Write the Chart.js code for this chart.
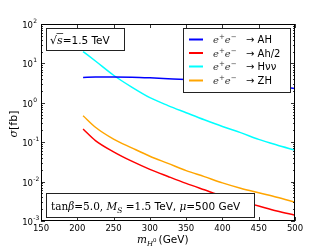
<!DOCTYPE html>
<html>
<head>
<meta charset="utf-8">
<script src="https://cdn.jsdelivr.net/npm/chart.js@4"></script>
<style>
  html,body{margin:0;padding:0;background:#fff;}
  #wrap{width:328px;height:246px;}
</style>
</head>
<body>
<div id="wrap"><canvas id="chart" width="328" height="246"></canvas></div>
<script>
// masses (GeV) and cross sections (fb)
const masses = [208,225,250,275,300,325,350,375,400,425,450,475,500];
const sigAH   = [4.4,4.5,4.5,4.45,4.3,4.1,3.9,3.65,3.4,3.15,2.9,2.6,2.3];
const sigAh2  = [0.216,0.11,0.057,0.033,0.0205,0.0135,0.009,0.0062,0.0043,0.0032,0.0024,0.0018,0.0014];
const sigHnn  = [20,11.5,5.0,2.5,1.35,0.85,0.56,0.37,0.25,0.175,0.118,0.085,0.063];
const sigZH   = [0.47,0.24,0.12,0.072,0.044,0.029,0.019,0.0134,0.0093,0.0068,0.0052,0.004,0.003];
const xTicks = [150,200,250,300,350,400,450,500];
const yExps = [-3,-2,-1,0,1,2];

const series = [
  ["AH",   sigAH,  "#0000ff"],
  ["Ah/2", sigAh2, "#ff0000"],
  ["H\u03bd\u03bd", sigHnn, "#00ffff"],
  ["ZH",   sigZH,  "#ffa500"]
];

const SANS = "DejaVu Sans";
const SERIF = "DejaVu Serif";

// draws a run of [text, font, dy] pieces left to right, returns end x
function run(ctx, x, y, parts){
  parts.forEach(([t,f,dy])=>{
    ctx.font=f;
    ctx.fillText(t,x,y+(dy||0));
    x+=ctx.measureText(t).width;
  });
  return x;
}

const deco = {
  id:"deco",
  afterDatasetsDraw(chart){
    const ctx=chart.ctx, a=chart.chartArea;
    const xs=chart.scales.x, ys=chart.scales.y;
    ctx.save();
    ctx.fillStyle="#000"; ctx.strokeStyle="#000";
    ctx.textBaseline="alphabetic";

    // ticks inside the frame
    ctx.lineWidth=0.8;
    ctx.beginPath();
    xTicks.forEach(v=>{
      const px=Math.round(xs.getPixelForValue(v))+0.5;
      ctx.moveTo(px,a.bottom); ctx.lineTo(px,a.bottom-4);
      ctx.moveTo(px,a.top); ctx.lineTo(px,a.top+4);
    });
    yExps.forEach(e=>{
      for(let m=1;m<10;m++){
        if(e===2 && m>1) break;
        const py=Math.round(ys.getPixelForValue(m*Math.pow(10,e)))+0.5;
        const len=m===1?4:2;
        ctx.moveTo(a.left,py); ctx.lineTo(a.left+len,py);
        ctx.moveTo(a.right,py); ctx.lineTo(a.right-len,py);
      }
    });
    ctx.stroke();

    // tick labels
    ctx.textAlign="center";
    ctx.font="8.5px "+SANS;
    xTicks.forEach(v=>ctx.fillText(String(v),xs.getPixelForValue(v),231));
    yExps.forEach(e=>{
      const py=ys.getPixelForValue(Math.pow(10,e));
      ctx.textAlign="right";
      ctx.font="8.5px "+SANS;
      ctx.fillText("10",33,py+4);
      ctx.textAlign="left";
      ctx.font="6px "+SANS;
      ctx.fillText(e<0?"-"+(-e):String(e),33.3,py-1);
    });

    // axis titles
    ctx.textAlign="left";
    let x=run(ctx,137,243,[["m","italic 10.5px "+SERIF,0]]);
    const hx=x;
    x=run(ctx,hx,243,[["H","italic 7px "+SERIF,2.5]]);
    x=run(ctx,x,243,[["0","5.5px "+SERIF,-1]]);
    run(ctx,x+2,243,[["(GeV)","10.5px "+SANS,0]]);

    ctx.save();
    ctx.translate(17,124); ctx.rotate(-Math.PI/2);
    ctx.textAlign="left";
    ctx.font="italic 11px "+SERIF;
    const w1=ctx.measureText("\u03c3").width;
    ctx.font="11px "+SANS;
    const w2=ctx.measureText("[fb]").width;
    run(ctx,-(w1+w2)/2,0,[["\u03c3","italic 11px "+SERIF,0],["[fb]","11px "+SANS,0]]);
    ctx.restore();

    // boxes
    function box(x0,y0,w,h){
      ctx.fillStyle="#fff"; ctx.fillRect(x0,y0,w,h);
      ctx.strokeStyle="#222"; ctx.lineWidth=1;
      ctx.strokeRect(x0+0.5,y0+0.5,w,h);
      ctx.fillStyle="#000";
    }

    // sqrt(s) box
    box(46,28,78,22);
    ctx.font="11px "+SERIF;
    ctx.fillText("\u221a",50,44);
    const sx=50+ctx.measureText("\u221a").width;
    ctx.font="italic 11px "+SERIF;
    ctx.fillText("s",sx,44);
    const sw=ctx.measureText("s").width;
    ctx.lineWidth=0.8; ctx.beginPath();
    ctx.moveTo(sx-0.5,33.5); ctx.lineTo(sx+sw+0.5,33.5); ctx.stroke();
    run(ctx,sx+sw,44,[["=1.5 TeV","10.5px "+SANS,0]]);

    // parameter box
    box(46,193,208,24);
    run(ctx,51,210,[
      ["tan","10.5px "+SERIF,0],
      ["\u03b2","italic 10.5px "+SERIF,0],
      ["=5.0, ","10.5px "+SERIF,0],
      ["M","italic 10.5px "+SERIF,0],
      ["S","italic 7.5px "+SERIF,2.5],
      [" =1.5 ","10.5px "+SERIF,0],
      ["TeV, ","10.5px "+SANS,0],
      ["\u03bc","italic 10.5px "+SERIF,0],
      ["=500 GeV","10.5px "+SANS,0]
    ]);

    // legend
    box(183,28,107,64);
    const rows=[39.5,53,66.5,80.5];
    series.forEach(([name,,col],i)=>{
      const ry=rows[i];
      ctx.strokeStyle=col; ctx.lineWidth=2;
      ctx.beginPath(); ctx.moveTo(189,ry); ctx.lineTo(203,ry); ctx.stroke();
      ctx.fillStyle="#333";
      run(ctx,213,ry+3.5,[
        ["e","italic 10px "+SERIF,0],["+","7px "+SERIF,-4],
        ["e","italic 10px "+SERIF,0],["\u2212","7px "+SERIF,-4]
      ]);
      ctx.fillStyle="#000";
      run(ctx,246,ry+3.5,[["\u2192 ","10px "+SANS,0],[name,"10px "+SANS,0]]);
    });

    // frame
    ctx.strokeStyle="#000"; ctx.lineWidth=1;
    ctx.strokeRect(a.left+0.5,a.top+0.5,a.right-a.left-1,a.bottom-a.top-1);
    ctx.restore();
  }
};

new Chart(document.getElementById("chart"),{
  type:"line",
  data:{
    datasets:series.map(([name,vals,col])=>({
      label:name,
      data:masses.map((m,i)=>({x:m,y:vals[i]})),
      borderColor:col,
      borderWidth:1.5,
      pointRadius:0,
      fill:false,
      cubicInterpolationMode:"monotone"
    }))
  },
  options:{
    responsive:false,
    animation:false,
    events:[],
    layout:{padding:{left:41,right:33,top:24,bottom:25}},
    plugins:{legend:{display:false},tooltip:{enabled:false}},
    scales:{
      x:{type:"linear",min:150,max:500,display:false},
      y:{type:"logarithmic",min:0.001,max:100,display:false}
    }
  },
  plugins:[deco]
});
</script>
</body>
</html>
